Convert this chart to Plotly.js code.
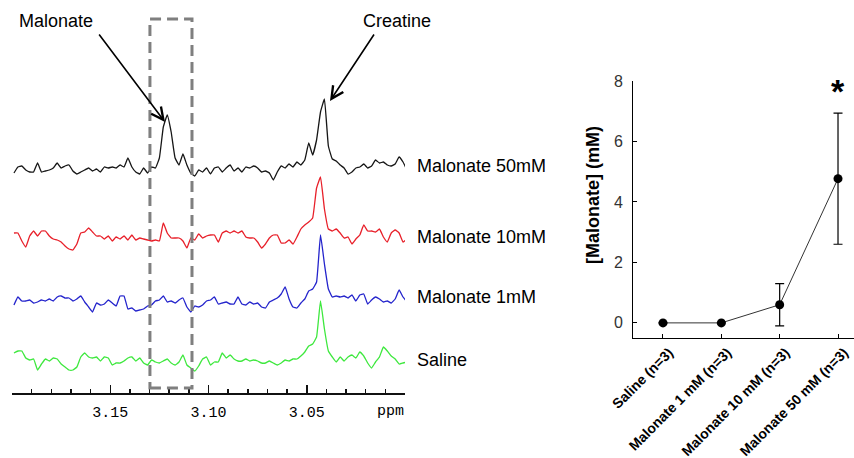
<!DOCTYPE html>
<html><head><meta charset="utf-8">
<script src="https://cdn.plot.ly/plotly-3.0.1.min.js"></script>
<style>html,body{margin:0;padding:0;background:#fff}#chart{width:854px;height:458px}</style>
</head><body><div id="chart"></div>
<script>
// ---- Left panel: 1H spectra, sampled every 0.002 ppm from 3.199 ppm (relative intensity) ----
const ppmStart = 3.199;
const ppmStep = -0.002;
const specMalonate50 = [-3,3,4,0,-2,-2,7,-2,-1,0,
  2,7,2,4,5,-1,-4,-2,0,2,
  -1,1,-2,3,2,3,2,5,3,12,
  3,-2,-4,2,-3,3,2,12,43,55,
  38,12,5,16,5,-3,-6,0,-2,2,
  -4,2,3,-2,2,5,-1,2,-2,3,
  2,4,2,-2,-1,-3,-10,-2,4,2,
  6,3,8,5,10,27,15,30,58,71,
  24,11,9,5,2,-4,-2,2,3,6,
  2,4,10,7,8,5,4,6,13,8,0];
const specMalonate10 = [5,5,-3,-9,2,7,2,7,7,2,
  -1,-2,-4,-8,-11,-12,-6,5,6,10,
  6,2,2,-1,2,-3,1,-1,2,-2,
  3,-2,0,-1,-2,-3,-2,-3,15,5,
  0,0,0,-3,-10,0,-2,4,0,2,
  3,3,-4,5,7,5,7,5,7,1,
  0,0,-4,-10,-6,0,3,3,-5,-5,
  -2,-6,1,9,13,16,20,50,61,29,
  9,7,9,5,0,1,-6,-1,3,13,
  7,7,6,9,1,-4,5,8,5,-4,-1];
const specMalonate1 = [-3,5,1,1,2,-1,0,2,1,3,
  1,5,6,4,4,1,3,6,0,-5,
  -10,-1,-3,-2,2,-1,-4,6,6,-7,
  -6,-9,-8,-7,-4,-3,1,2,6,0,
  1,-1,2,4,-5,-10,-4,-5,-3,1,
  2,5,-2,-1,0,-2,-2,5,-2,-3,
  0,-2,-1,-5,-6,0,2,4,8,15,
  3,-5,-6,-1,3,11,13,20,67,38,
  13,5,6,5,6,4,7,1,7,8,
  -2,2,5,3,0,1,-1,3,12,5,0];
const specSaline = [7,9,9,2,0,1,-10,-4,1,-1,
  2,1,-4,-7,-10,-10,-7,3,7,3,
  2,3,-1,3,2,-5,-3,-3,-1,2,
  3,-1,2,-3,-5,0,-2,-3,-1,1,
  -3,-5,-2,5,-5,-8,-11,-6,1,3,
  -5,-2,-2,7,2,5,1,-1,-1,1,
  -1,0,-1,-3,-3,-1,-3,-5,-3,0,
  -1,1,1,4,8,14,16,23,59,31,
  9,3,-2,3,-1,3,5,2,8,4,
  -3,-8,-2,3,13,9,4,1,-4,-3,-2];
const specNames = ['Malonate 50mM', 'Malonate 10mM', 'Malonate 1mM', 'Saline'];
const ppmTickVals = [3.20, 3.15, 3.10, 3.05, 3.00];
const ppmTickText = ['', '3.15', '3.10', '3.05', ''];

// ---- Right panel: measured malonate concentration ----
const groups = ['Saline (n=3)', 'Malonate 1 mM (n=3)', 'Malonate 10 mM (n=3)', 'Malonate 50 mM (n=3)'];
const meanConc = [0, 0, 0.6, 4.77];
const semConc = [0, 0, 0.7, 2.17];

// ---- layout helpers ----
const W = 854, H = 458;
const px = x => x / W;
const py = y => 1 - y / H;
const sans = 'Liberation Sans, Arial, sans-serif';
const mono = 'Liberation Mono, Courier New, monospace';

const specs = [specMalonate50, specMalonate10, specMalonate1, specSaline];
const specColors = ['#161616', '#e8202a', '#2424cc', '#3ee83e'];
const specOffsets = [223, 155, 91, 33];
const labelY = [166, 237, 297, 360];

const traces = specs.map((s, i) => ({
  type: 'scatter', mode: 'lines', name: specNames[i],
  x0: ppmStart, dx: ppmStep,
  y: s.map(v => v + specOffsets[i]),
  xaxis: 'x', yaxis: 'y',
  line: {color: specColors[i], width: 1.3, shape: 'spline', smoothing: 0.3},
  hoverinfo: 'skip', showlegend: false
}));

traces.push({
  type: 'scatter', mode: 'lines+markers',
  x: groups, y: meanConc, xaxis: 'x2', yaxis: 'y2',
  error_y: {type: 'data', array: semConc, visible: true, color: '#000', thickness: 1.2, width: 4.5},
  marker: {color: '#000', size: 9},
  line: {color: '#333', width: 1},
  showlegend: false
});

const txt = (text, x, y, font, extra) => Object.assign({
  text: text, x: x, y: y, xref: 'paper', yref: 'paper', xanchor: 'center', yanchor: 'middle',
  showarrow: false, font: font
}, extra || {});

const annotations = [
  txt('Malonate', px(56), py(21), {family: sans, size: 18, color: '#000'}),
  txt('Creatine', px(397), py(21), {family: sans, size: 18, color: '#000'}),
  {text: '', x: px(165), y: py(122), xref: 'paper', yref: 'paper', showarrow: true, ax: -67, ay: -89, arrowhead: 5, arrowsize: 1.5, arrowwidth: 1.6, arrowcolor: '#000'},
  {text: '', x: px(330), y: py(101), xref: 'paper', yref: 'paper', showarrow: true, ax: 45, ay: -68, arrowhead: 5, arrowsize: 1.5, arrowwidth: 1.6, arrowcolor: '#000'},
  txt('ppm', px(406), py(411), {family: mono, size: 15, color: '#000'}, {xanchor: 'right'}),
  txt('[Malonate] (mM)', px(593), py(195), {family: sans, size: 18, color: '#000', weight: 'bold'}, {textangle: -90}),
  txt('*', 3, py(91), {family: sans, size: 34, color: '#000', weight: 'bold'}, {xref: 'x2'})
];
specNames.forEach((n, i) => annotations.push(
  txt(n, px(415), py(labelY[i]), {family: sans, size: 18, color: '#000'}, {xanchor: 'left'})
));

const layout = {
  width: W, height: H,
  margin: {l: 0, r: 0, t: 0, b: 0},
  paper_bgcolor: '#fff', plot_bgcolor: 'rgba(0,0,0,0)',
  showlegend: false,
  xaxis: {
    domain: [px(12), px(405)], range: [3.20, 3.00], anchor: 'y',
    showline: true, linecolor: '#111', linewidth: 1.5,
    ticks: 'inside', ticklen: 8, tickwidth: 1.5, tickcolor: '#111',
    tickmode: 'array', tickvals: ppmTickVals, ticktext: ppmTickText,
    ticklabelstandoff: 4,
    tickfont: {family: mono, size: 15, color: '#000'},
    minor: {ticks: 'inside', ticklen: 4, tickwidth: 1.5, tickcolor: '#111', dtick: 0.01, tick0: 3.0},
    showgrid: false, zeroline: false, fixedrange: true
  },
  yaxis: {domain: [py(393), 1], range: [0, 393], visible: false, fixedrange: true},
  xaxis2: {
    domain: [px(633), 1], range: [-0.514, 3.274], type: 'category', anchor: 'y2',
    showline: true, linecolor: '#000', linewidth: 1,
    ticks: 'inside', ticklen: 4, tickcolor: '#000',
    tickangle: -45, ticklabelshift: 6,
    tickfont: {family: sans, size: 14, color: '#000', weight: 'bold'},
    showgrid: false, zeroline: false, fixedrange: true
  },
  yaxis2: {
    domain: [py(338), py(81)], range: [-0.5, 8], anchor: 'x2',
    tickvals: [0, 2, 4, 6, 8],
    showline: true, linecolor: '#000', linewidth: 1,
    ticks: 'inside', ticklen: 4, tickcolor: '#000',
    ticklabelstandoff: 6,
    tickfont: {family: sans, size: 16, color: '#333'},
    showgrid: false, zeroline: false, fixedrange: true
  },
  shapes: [{
    type: 'rect', xref: 'x', yref: 'y', x0: 3.1298, x1: 3.1084, y0: 5, y1: 374,
    line: {color: '#7f7f7f', width: 3, dash: '11px,6px'}
  }],
  annotations: annotations
};

Plotly.newPlot('chart', traces, layout, {staticPlot: true, displayModeBar: false});
</script>
</body></html>
